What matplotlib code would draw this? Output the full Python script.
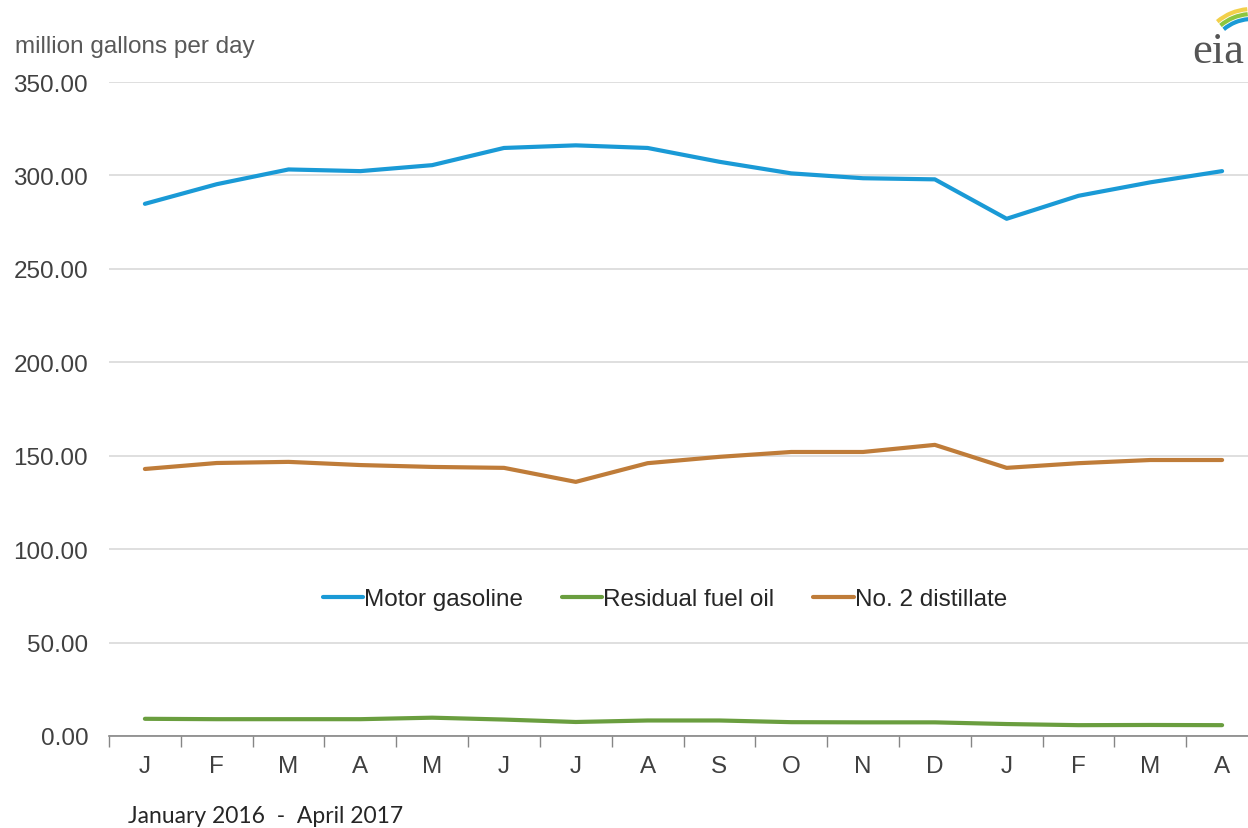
import numpy as np
import matplotlib.pyplot as plt
from matplotlib.patches import Arc

plt.rcParams['font.family'] = ['Liberation Sans', 'DejaVu Sans']

# Monthly data, January 2016 - April 2017
months = ['J', 'F', 'M', 'A', 'M', 'J', 'J', 'A', 'S', 'O', 'N', 'D', 'J', 'F', 'M', 'A']
motor_gasoline = [284.8, 295.3, 303.2, 302.3, 305.5, 314.7, 316.1, 314.7,
                  307.3, 301.1, 298.5, 297.9, 276.8, 289.1, 296.3, 302.3]
residual_fuel = [9.2, 9.0, 9.0, 9.0, 9.8, 8.8, 7.5, 8.3,
                 8.3, 7.4, 7.3, 7.3, 6.4, 5.8, 5.9, 5.8]
distillate = [142.9, 146.1, 146.7, 145.0, 144.0, 143.5, 136.0, 146.0,
              149.4, 152.0, 152.0, 155.8, 143.5, 146.0, 147.7, 147.7]
yticks = [0, 50, 100, 150, 200, 250, 300, 350]

W, H = 1248, 829
fig = plt.figure(figsize=(W / 100, H / 100), dpi=100)
ax = fig.add_axes([109 / W, (H - 737) / H, (1258 - 109) / W, (737 - 83) / H])

x = np.arange(len(months))
ax.plot(x, motor_gasoline, color='#1a9ad6', lw=3, label='Motor gasoline', solid_capstyle='round')
ax.plot(x, residual_fuel, color='#6a9e3f', lw=3, label='Residual fuel oil', solid_capstyle='round')
ax.plot(x, distillate, color='#bf7c39', lw=3, label='No. 2 distillate', solid_capstyle='round')

ax.set_xlim(-0.5, len(months) - 0.5)
ax.set_ylim(0, 350)
ax.set_yticks(yticks)
ax.set_yticklabels(['%.2f' % v for v in yticks])
ax.yaxis.grid(True, color='#d9d9d9', lw=1.2)
ax.set_axisbelow(True)
ax.tick_params(axis='y', length=0, pad=15, labelsize=17.5, labelcolor='#404040')

ax.set_xticks(x)
ax.set_xticklabels(months)
ax.set_xticks(np.arange(-0.5, len(months), 1), minor=True)
ax.tick_params(axis='x', which='major', length=0, pad=14, labelsize=17.5, labelcolor='#404040')
ax.tick_params(axis='x', which='minor', length=8, width=1, color='#868686', direction='out')

for s in ['top', 'right', 'left']:
    ax.spines[s].set_visible(False)
ax.spines['bottom'].set_color('#868686')
ax.spines['bottom'].set_linewidth(1.2)

leg = ax.legend(loc='center', bbox_to_anchor=((665 - 109) / (1258 - 109), (737 - 600) / (737 - 83)),
                ncol=3, frameon=False, fontsize=17.5, handlelength=1.65, handletextpad=0.05,
                columnspacing=1.6)
for t in leg.get_texts():
    t.set_color('#262626')

fig.text(15 / W, 1 - 47 / H, 'million gallons per day', fontsize=17.5, color='#595959', va='center')
fig.text(128 / W, 1 - 817 / H, 'January 2016  -  April 2017', fontsize=16.5,
         family=['Lato', 'DejaVu Sans'], color='#262626', va='center')

# eia logo
fig.text(1244 / W, 1 - 52 / H, 'eia', fontsize=32, family=['Liberation Serif', 'DejaVu Serif'],
         color='#555555', va='center', ha='right')
for r, c in [(54, '#f2d04a'), (49, '#8cc63f'), (44, '#1a9ad6')]:
    fig.patches.append(Arc((1252, H - 64), 2 * r, 2 * r, theta1=95, theta2=130,
                           transform=None, color=c, lw=3))

fig.savefig('out.png', dpi=100)
